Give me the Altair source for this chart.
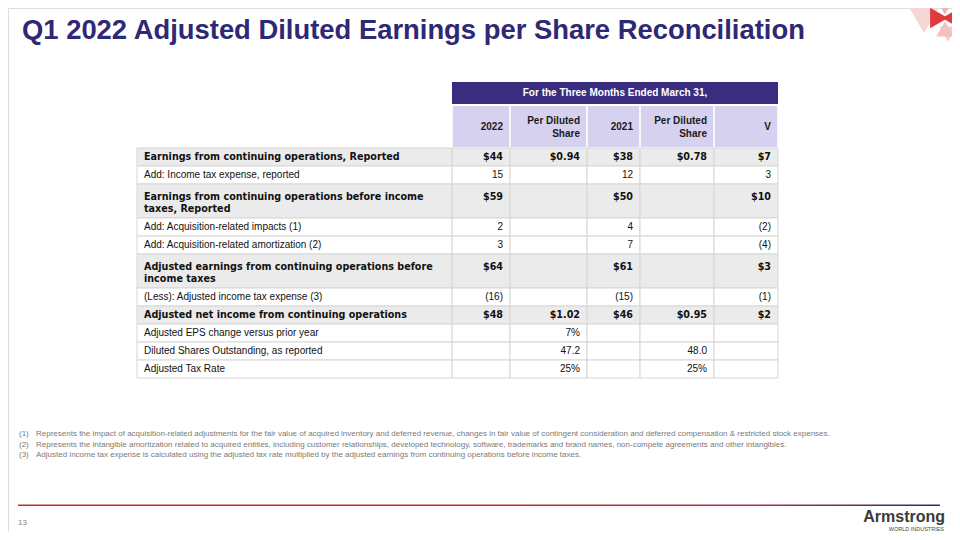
import altair as alt
import pandas as pd

# ---------------- data ----------------
title_text = "Q1 2022 Adjusted Diluted Earnings per Share Reconciliation"
period_header = "For the Three Months Ended March 31,"
col_headers = ["2022", "Per Diluted\nShare", "2021", "Per Diluted\nShare", "V"]
row_labels = [
    "Earnings from continuing operations, Reported",
    "Add: Income tax expense, reported",
    "Earnings from continuing operations before income\ntaxes, Reported",
    "Add: Acquisition-related impacts (1)",
    "Add: Acquisition-related amortization (2)",
    "Adjusted earnings from continuing operations before\nincome taxes",
    "(Less): Adjusted income tax expense (3)",
    "Adjusted net income from continuing operations",
    "Adjusted EPS change versus prior year",
    "Diluted Shares Outstanding, as reported",
    "Adjusted Tax Rate",
]
row_bold = [True, False, True, False, False, True, False, True, False, False, False]
vals_2022 = ["$44", "15", "$59", "2", "3", "$64", "(16)", "$48", "", "", ""]
pds_2022 = ["$0.94", "", "", "", "", "", "", "$1.02", "7%", "47.2", "25%"]
vals_2021 = ["$38", "12", "$50", "4", "7", "$61", "(15)", "$46", "", "", ""]
pds_2021 = ["$0.78", "", "", "", "", "", "", "$0.95", "", "48.0", "25%"]
vals_var = ["$7", "3", "$10", "(2)", "(4)", "$3", "(1)", "$2", "", "", ""]
footnote_marks = ["(1)", "(2)", "(3)"]
footnotes = [
    "Represents the impact of acquisition-related adjustments for the fair value of acquired inventory and deferred revenue, changes in fair value of contingent consideration and deferred compensation & restricted stock expenses.",
    "Represents the intangible amortization related to acquired entities, including customer relationships, developed technology, software, trademarks and brand names, non-compete agreements and other intangibles.",
    "Adjusted income tax expense is calculated using the adjusted tax rate multiplied by the adjusted earnings from continuing operations before income taxes.",
]
page_number = "13"
logo_name = "Armstrong"
logo_sub = "WORLD INDUSTRIES"

# ---------------- layout ----------------
FONT = "Liberation Sans"
BOLD_FONT = "DejaVu Sans"
PURPLE = "#2f2874"
HDR_DARK = "#3a2d80"
HDR_LIGHT = "#d6d1ef"
GRAY_ROW = "#ebebeb"
col_edges = [137, 452, 510, 587, 640, 714, 778]
table_top = 148
single_h, double_h = 18, 34

xs = alt.Scale(domain=[8, 952], nice=False, zero=False)
ys = alt.Scale(domain=[8, 532], nice=False, zero=False, reverse=True)
X = lambda f="x": alt.X(f"{f}:Q", scale=xs, axis=None)
Y = lambda f="y": alt.Y(f"{f}:Q", scale=ys, axis=None)

# rows
columns = [vals_2022, pds_2022, vals_2021, pds_2021, vals_var]
cells, labels, nums = [], [], []
top = table_top
for r, lab in enumerate(row_labels):
    nlines = lab.count("\n") + 1
    h = double_h if nlines > 1 else single_h
    fill = GRAY_ROW if row_bold[r] else "#ffffff"
    first = top + (12.5 if nlines > 1 else 9)
    for c in range(6):
        cells.append(dict(x=col_edges[c], x2=col_edges[c + 1], y=top, y2=top + h, fill=fill))
    labels.append(dict(x=col_edges[0] + 7, y=first, text=lab, bold=row_bold[r]))
    for c, col in enumerate(columns):
        nums.append(dict(x=col_edges[c + 2] - 7, y=first, text=col[r], bold=row_bold[r]))
    top += h

cells_df = pd.DataFrame(cells)
labels_df = pd.DataFrame(labels)
nums_df = pd.DataFrame(nums)

cell_layer = alt.Chart(cells_df).mark_rect(stroke="#d6d6d6", strokeWidth=1).encode(
    x=X(), x2="x2", y=Y(), y2="y2", color=alt.Color("fill:N", scale=None))

def text_layer(df, bold, align):
    return alt.Chart(df[df["bold"] == bold]).mark_text(
        font=BOLD_FONT if bold else FONT, fontSize=9.6 if bold else 10,
        fontWeight="bold" if bold else "normal",
        align=align, baseline="middle", lineBreak="\n", lineHeight=12, color="#111111"
    ).encode(x=X(), y=Y(), text="text:N")

lab_bold = text_layer(labels_df, True, "left")
lab_reg = text_layer(labels_df, False, "left")
num_bold = text_layer(nums_df, True, "right")
num_reg = text_layer(nums_df, False, "right")

# header
hdr_dark_df = pd.DataFrame([dict(x=col_edges[1], x2=col_edges[6], y=82, y2=104)])
hdr_dark = alt.Chart(hdr_dark_df).mark_rect(color=HDR_DARK).encode(x=X(), x2="x2", y=Y(), y2="y2")
hdr_light_df = pd.DataFrame([dict(x=col_edges[i + 1] + 0.8, x2=col_edges[i + 2] - 0.8, y=106, y2=147)
                             for i in range(5)])
hdr_light = alt.Chart(hdr_light_df).mark_rect(color=HDR_LIGHT).encode(x=X(), x2="x2", y=Y(), y2="y2")
period_df = pd.DataFrame([dict(x=(col_edges[1] + col_edges[6]) / 2, y=93, text=period_header)])
period_t = alt.Chart(period_df).mark_text(font=FONT, fontSize=10, fontWeight="bold", color="white",
                                          align="center", baseline="middle").encode(x=X(), y=Y(), text="text:N")
colhdr_df = pd.DataFrame([dict(x=col_edges[i + 2] - 7, y=(120.5 if "\n" in t else 127), text=t)
                          for i, t in enumerate(col_headers)])
colhdr_t = alt.Chart(colhdr_df).mark_text(font=FONT, fontSize=10, fontWeight="bold", color="#1a1a1a",
                                          align="right", baseline="middle", lineBreak="\n",
                                          lineHeight=13).encode(x=X(), y=Y(), text="text:N")

# title
title_df = pd.DataFrame([dict(x=22, y=39, text=title_text)])
title_t = alt.Chart(title_df).mark_text(font=FONT, fontSize=27.4, fontWeight="bold", color=PURPLE,
                                        align="left", baseline="alphabetic").encode(x=X(), y=Y(), text="text:N")

# footnotes
fn_df = pd.DataFrame([dict(y=434 + 10.5 * i, mark=m, text=t) for i, (m, t) in enumerate(zip(footnote_marks, footnotes))])
fn_base = alt.Chart(fn_df).mark_text(font=FONT, fontSize=8, color="#7a7a7a", align="left", baseline="middle")
fn_marks = fn_base.encode(x=alt.value(19 - 8), y=Y(), text="mark:N")
fn_text = fn_base.encode(x=alt.value(36 - 8), y=Y(), text="text:N")

# bottom rule with gradient
rule_df = pd.DataFrame([dict(x=18, x2=940, y=504.5, y2=506)])
rule = alt.Chart(rule_df).mark_rect(
    color=alt.Gradient(gradient="linear", x1=0, x2=1, y1=0, y2=0,
                       stops=[alt.GradientStop(offset=0, color="#c62f2f"),
                              alt.GradientStop(offset=0.8, color="#b0303e"),
                              alt.GradientStop(offset=1, color="#2a2a78")])
).encode(x=X(), x2="x2", y=Y(), y2="y2")

# footer texts
pg_df = pd.DataFrame([dict(x=18, y=523, text=page_number)])
pg_t = alt.Chart(pg_df).mark_text(font=FONT, fontSize=8, color="#888888", align="left",
                                  baseline="middle").encode(x=X(), y=Y(), text="text:N")
logo_df = pd.DataFrame([dict(x=945, y=517, text=logo_name)])
logo_t = alt.Chart(logo_df).mark_text(font=FONT, fontSize=16, fontWeight="bold", color="#3a3a3a", align="right",
                                      baseline="middle").encode(x=X(), y=Y(), text="text:N")
logo2_df = pd.DataFrame([dict(x=944, y=528.5, text=logo_sub)])
logo2_t = alt.Chart(logo2_df).mark_text(font=FONT, fontSize=5.5, color="#444444", align="right",
                                        baseline="middle").encode(x=X(), y=Y(), text="text:N")

# decoration top-right
deco_df = pd.DataFrame([
    dict(x=924, y=12, shape="triangle-down", size=2400, col="#f7d6d6"),
    dict(x=948, y=34, shape="triangle-down", size=300, col="#f5caca"),
    dict(x=945, y=7, shape="triangle-down", size=300, col="#f2b5b5"),
    dict(x=945, y=29, shape="triangle-up", size=300, col="#f4c0c0"),
    dict(x=939, y=18, shape="triangle-right", size=420, col="#e0393e"),
    dict(x=951, y=18, shape="triangle-left", size=420, col="#e0393e"),
])
deco = alt.Chart(deco_df).mark_point(filled=True, opacity=1, strokeWidth=0).encode(
    x=X(), y=Y(), shape=alt.Shape("shape:N", scale=None),
    size=alt.Size("size:Q", scale=None), color=alt.Color("col:N", scale=None))

chart = alt.layer(
    deco, title_t, hdr_dark, hdr_light, period_t, colhdr_t,
    cell_layer, lab_bold, lab_reg, num_bold, num_reg,
    fn_marks, fn_text, rule, pg_t, logo_t, logo2_t
).properties(width=944, height=524, padding=0, autosize=alt.AutoSizeParams(type="none")
).configure_view(stroke=None).configure(background="white")

chart.save("out.html", embed_options={"renderer": "svg", "actions": False})
